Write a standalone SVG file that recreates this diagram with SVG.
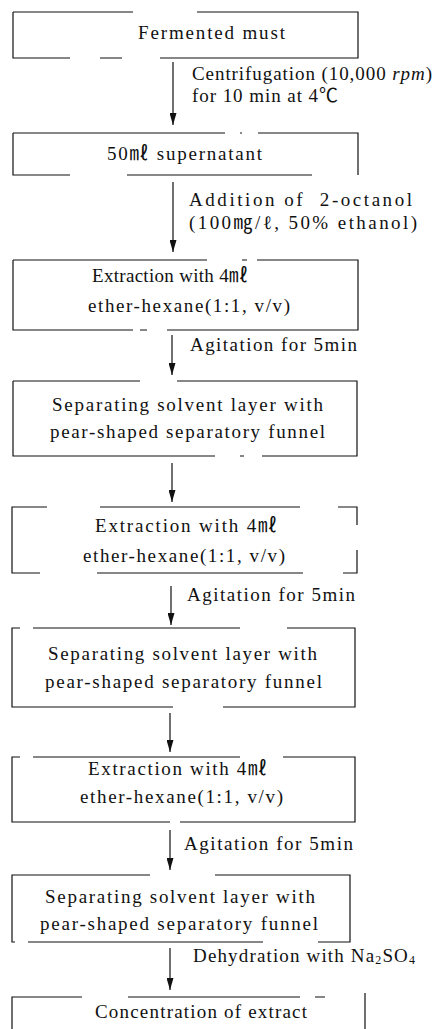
<svg xmlns="http://www.w3.org/2000/svg" width="440" height="1029" viewBox="0 0 440 1029">
<style>
.box{fill:none;stroke:#111;stroke-width:1.2}
.t{font-family:'Liberation Serif',serif;font-size:19px;fill:#111}
.k{font-family:'Liberation Serif','Noto Sans CJK KR',serif}
.c{stroke:#111;stroke-width:1.2;fill:none}
</style>
<defs>
<marker id="arr" markerWidth="12" markerHeight="7" refX="12" refY="3.5" orient="auto" markerUnits="userSpaceOnUse" viewBox="0 0 12 7">
<path d="M0,0 L12,3.5 L0,7 Z" fill="#111"/>
</marker>
</defs>
<rect width="440" height="1029" fill="#fff"/>
<g id="connectors">
<line class="c" x1="173" y1="62" x2="173" y2="125" marker-end="url(#arr)"/>
<line class="c" x1="173" y1="182" x2="173" y2="252" marker-end="url(#arr)"/>
<line class="c" x1="172" y1="335" x2="172" y2="375" marker-end="url(#arr)"/>
<line class="c" x1="172" y1="463" x2="172" y2="502" marker-end="url(#arr)"/>
<line class="c" x1="171" y1="586" x2="171" y2="625" marker-end="url(#arr)"/>
<line class="c" x1="170" y1="713" x2="170" y2="752" marker-end="url(#arr)"/>
<line class="c" x1="170" y1="830" x2="170" y2="870" marker-end="url(#arr)"/>
<line class="c" x1="170" y1="948" x2="170" y2="990" marker-end="url(#arr)"/>
<text class="t" x="192" y="80" textLength="240" lengthAdjust="spacing">Centrifugation (10,000 <tspan font-style="italic">rpm</tspan>)</text>
<text class="t" x="192" y="102" textLength="146" lengthAdjust="spacing">for 10 min at 4<tspan class="k">℃</tspan></text>
<text class="t" x="189" y="206" textLength="223" lengthAdjust="spacing" xml:space="preserve">Addition of  2-octanol</text>
<text class="t" x="189" y="229" textLength="228" lengthAdjust="spacing">(100<tspan class="k">㎎</tspan>/ℓ, 50% ethanol)</text>
<text class="t" x="190" y="351" textLength="167" lengthAdjust="spacing">Agitation for 5min</text>
<text class="t" x="187" y="601" textLength="168" lengthAdjust="spacing">Agitation for 5min</text>
<text class="t" x="184" y="850" textLength="169" lengthAdjust="spacing">Agitation for 5min</text>
<text class="t" x="193" y="962" textLength="222" lengthAdjust="spacing">Dehydration with Na<tspan font-size="12" dy="2">2</tspan><tspan dy="-2">SO</tspan><tspan font-size="12" dy="2">4</tspan></text>
</g>
<g id="n1">
<path class="box" d="M13,12 H133 M197,12 H358 V58 H160 M122,58 H100 M70,58 H13 V12"/>
<text class="t" x="138" y="39" textLength="147" lengthAdjust="spacing">Fermented must</text>
</g>
<g id="n2">
<path class="box" d="M13,133 H225 M240,133 H242 M258,133 H358 V175 M312,175 H127 M70,175 H13 V133"/>
<text class="t" x="107" y="160" textLength="155" lengthAdjust="spacing">50<tspan class="k">㎖</tspan> supernatant</text>
</g>
<g id="n3">
<path class="box" d="M13,260 H207 M242,260 H247 M257,260 H358 V330 H167 M147,330 H140 M133,330 H13 V260"/>
<text class="t" x="92" y="282" textLength="156" lengthAdjust="spacing">Extraction with 4<tspan class="k">㎖</tspan></text>
<text class="t" x="88" y="312" textLength="202" lengthAdjust="spacing">ether-hexane(1:1, v/v)</text>
</g>
<g id="n4">
<path class="box" d="M13,381 H140 M177,381 H357 V456 H262 M244,456 H240 M215,456 H13 V381"/>
<text class="t" x="52" y="411" textLength="271" lengthAdjust="spacing">Separating solvent layer with</text>
<text class="t" x="50" y="438" textLength="275" lengthAdjust="spacing">pear-shaped separatory funnel</text>
</g>
<g id="n5">
<path class="box" d="M47,507 H12 V573 H40 M97,573 H303 M343,573 H357 V550 M357,525 V507 H338 M300,507 H100"/>
<text class="t" x="95" y="532" textLength="182" lengthAdjust="spacing">Extraction with 4<tspan class="k">㎖</tspan></text>
<text class="t" x="83" y="562" textLength="202" lengthAdjust="spacing">ether-hexane(1:1, v/v)</text>
</g>
<g id="n6">
<path class="box" d="M20,628 H12 V707 H173 M223,707 H355 V628 H287 M240,628 H33"/>
<text class="t" x="48" y="660" textLength="269" lengthAdjust="spacing">Separating solvent layer with</text>
<text class="t" x="45" y="688" textLength="277" lengthAdjust="spacing">pear-shaped separatory funnel</text>
</g>
<g id="n7">
<path class="box" d="M20,757 H12 V822 H170 M180,822 H355 V757 H283 M240,757 H33"/>
<text class="t" x="88" y="775" textLength="179" lengthAdjust="spacing">Extraction with 4<tspan class="k">㎖</tspan></text>
<text class="t" x="80" y="803" textLength="203" lengthAdjust="spacing">ether-hexane(1:1, v/v)</text>
</g>
<g id="n8">
<path class="box" d="M150,875 H12 V942 H15 M28,942 H263 M318,942 H350 V875 H215"/>
<text class="t" x="45" y="903" textLength="270" lengthAdjust="spacing">Separating solvent layer with</text>
<text class="t" x="40" y="930" textLength="278" lengthAdjust="spacing">pear-shaped separatory funnel</text>
</g>
<g id="n9">
<path class="box" d="M12,1029 V997 H82 M128,997 H300 M315,997 H325 M365,993 V1029"/>
<text class="t" x="95" y="1018" textLength="212" lengthAdjust="spacing">Concentration of extract</text>
</g>
</svg>
